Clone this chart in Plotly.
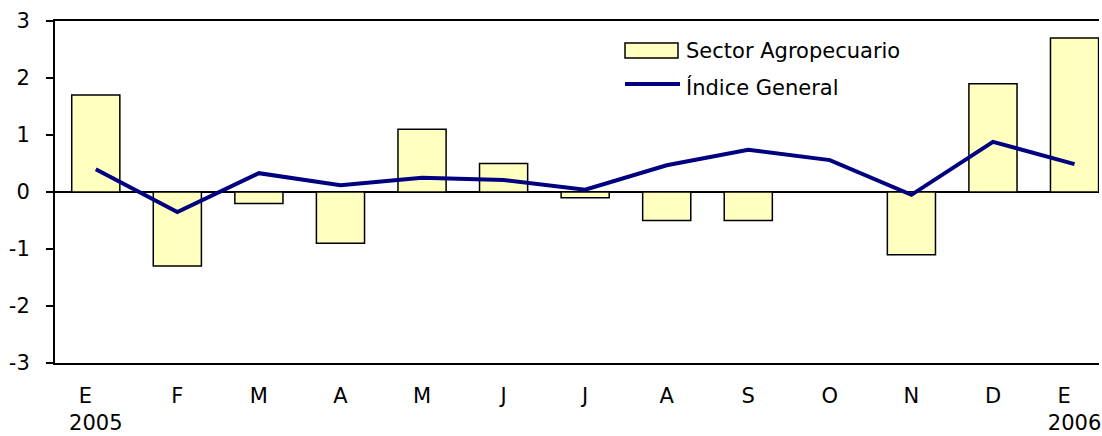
import plotly.graph_objects as go

# monthly changes, Jan 2005 - Jan 2006
months = ["E", "F", "M", "A", "M", "J", "J", "A", "S", "O", "N", "D", "E"]
years = ["2005", "", "", "", "", "", "", "", "", "", "", "", "2006"]
sector_agro = [1.7, -1.3, -0.2, -0.9, 1.1, 0.5, -0.1, -0.5, -0.5, 0.0, -1.1, 1.9, 2.7]
indice_general = [0.40, -0.35, 0.33, 0.12, 0.25, 0.21, 0.04, 0.47, 0.74, 0.56, -0.05, 0.88, 0.49]
y_ticks = [-3, -2, -1, 0, 1, 2, 3]

FONT = "DejaVu Sans"
FS = 21
W, H = 1102, 436
ML, MR, MT, MB = 55, 3, 21, 73
PW, PH = W - ML - MR, H - MT - MB

x = list(range(len(months)))
ticktext = [m + "\u2003<br>" + y if y else m for m, y in zip(months, years)]


def px_x(p):
    return (p - ML) / PW


def px_y(p):
    return (H - MB - p) / PH


fig = go.Figure()
fig.add_trace(go.Bar(
    x=x, y=sector_agro, name="Sector Agropecuario",
    marker=dict(color="#FFFFC0", line=dict(color="black", width=1.5)),
))
fig.add_trace(go.Scatter(
    x=x, y=indice_general, name="Índice General", mode="lines",
    line=dict(color="#000080", width=4),
))

# legend drawn by hand so swatches match the original size
fig.add_shape(type="rect", xref="paper", yref="paper",
              x0=px_x(625), x1=px_x(678), y0=px_y(58), y1=px_y(43),
              fillcolor="#FFFFC0", line=dict(color="black", width=1.5))
fig.add_shape(type="line", xref="paper", yref="paper",
              x0=px_x(625), x1=px_x(680), y0=px_y(84), y1=px_y(84),
              line=dict(color="#000080", width=4))
fig.add_annotation(text="Sector Agropecuario", xref="paper", yref="paper",
                   x=px_x(684), y=px_y(51), xanchor="left", yanchor="middle",
                   showarrow=False, font=dict(size=FS, color="black", family=FONT))
fig.add_annotation(text="Índice General", xref="paper", yref="paper",
                   x=px_x(684), y=px_y(87), xanchor="left", yanchor="middle",
                   showarrow=False, font=dict(size=FS, color="black", family=FONT))

fig.update_layout(
    width=W, height=H,
    margin=dict(l=ML, r=MR, t=MT, b=MB, pad=0, autoexpand=False),
    paper_bgcolor="white", plot_bgcolor="white",
    showlegend=False, bargap=0.41,
    font=dict(family=FONT, size=FS, color="black"),
)
fig.update_xaxes(
    range=[-0.5, 12.3], tickmode="array", tickvals=x, ticktext=ticktext,
    showgrid=False, zeroline=False, ticks="", automargin=False,
    showline=True, mirror=True, linecolor="black", linewidth=1.5,
    ticklabelstandoff=13, tickfont=dict(size=FS),
)
fig.update_yaxes(
    range=[-3, 3], tickmode="array", tickvals=y_ticks,
    ticktext=[str(v) for v in y_ticks], showgrid=False, automargin=False,
    zeroline=True, zerolinecolor="black", zerolinewidth=2,
    showline=True, linecolor="black", linewidth=2,
    ticks="outside", ticklen=7, tickwidth=1.5, tickcolor="black",
    ticklabelstandoff=12, tickfont=dict(size=FS),
)

fig.write_html("out.html", config={"displayModeBar": False},
               post_script="document.body.style.margin='0';")
